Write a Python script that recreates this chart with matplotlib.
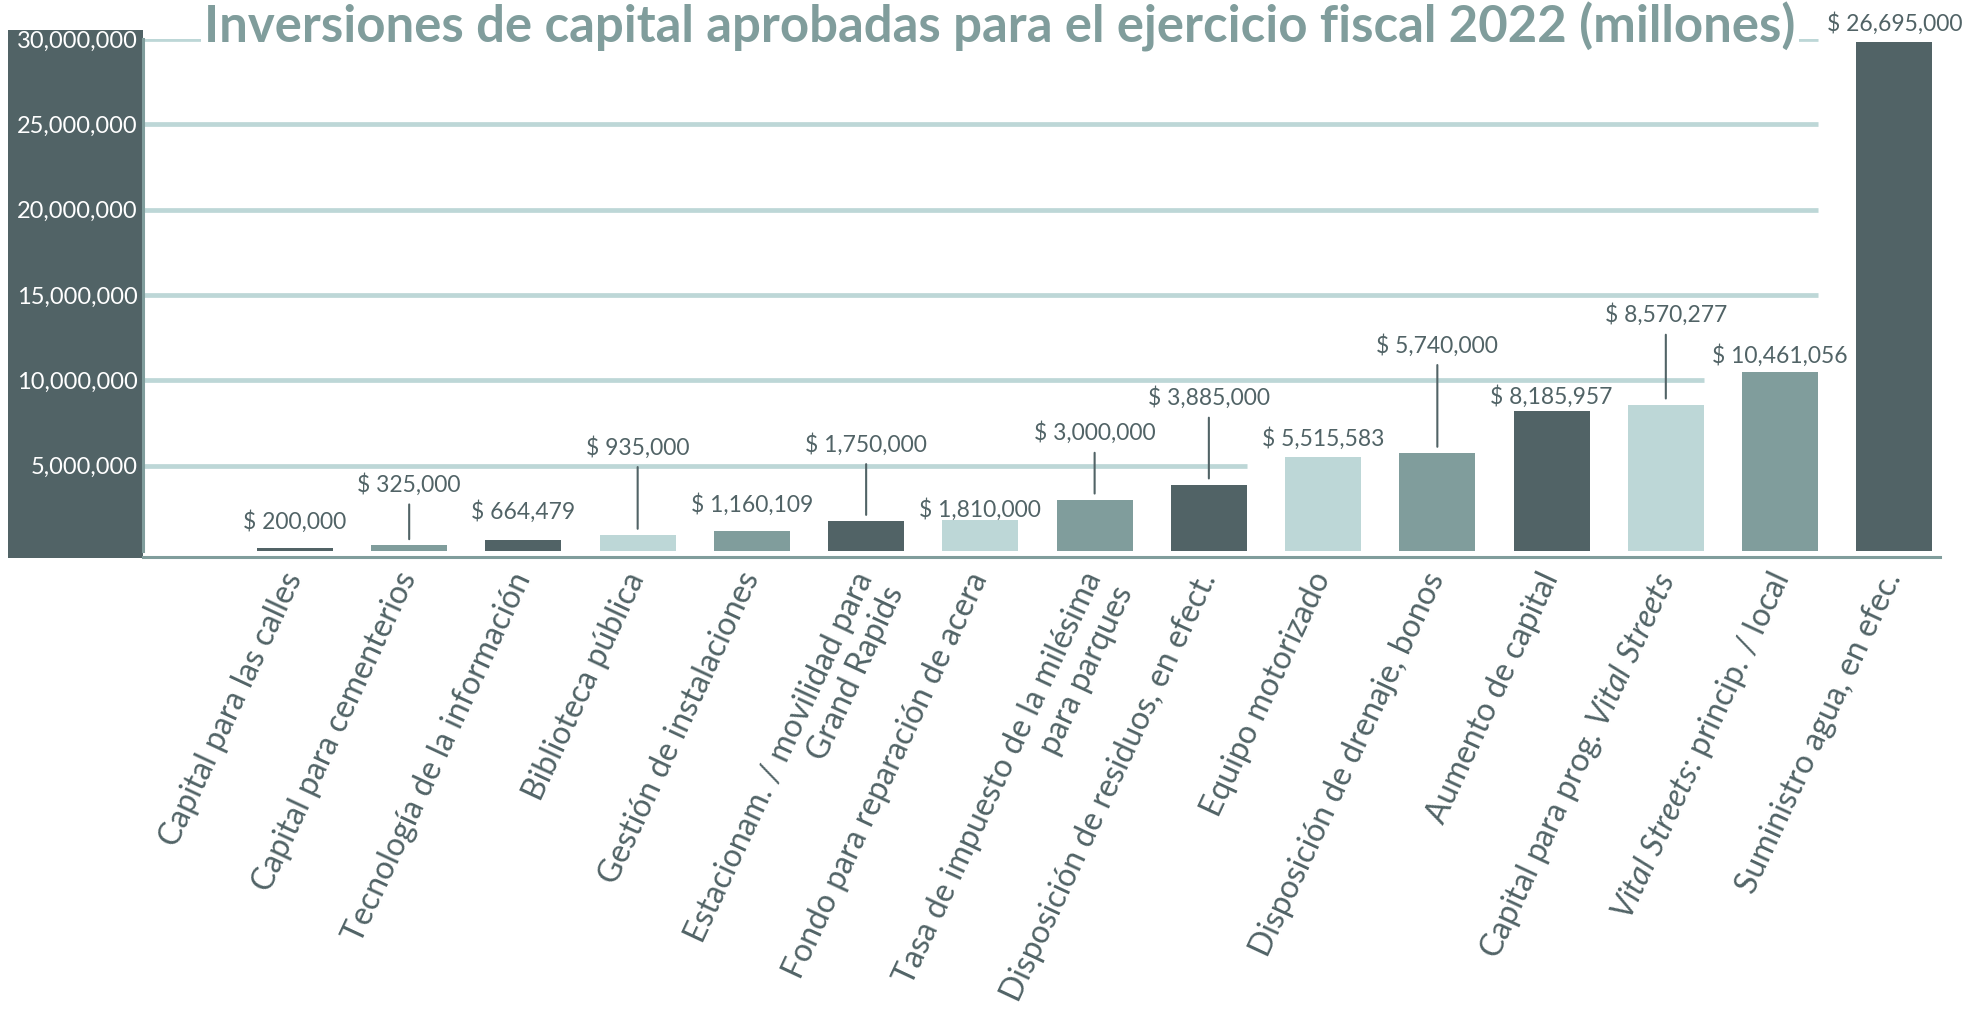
import matplotlib
matplotlib.use("Agg")
import matplotlib.pyplot as plt
import matplotlib.transforms as mtransforms
from matplotlib.patches import Rectangle

# ---------------- data ----------------
categories = [
    "Capital para las calles",
    "Capital para cementerios",
    "Tecnología de la información",
    "Biblioteca pública",
    "Gestión de instalaciones",
    "Estacionam. / movilidad para\nGrand Rapids",
    "Fondo para reparación de acera",
    "Tasa de impuesto de la milésima\npara parques",
    "Disposición de residuos, en efect.",
    "Equipo motorizado",
    "Disposición de drenaje, bonos",
    "Aumento de capital",
    r"Capital para prog. $\mathit{Vital\ Streets}$",
    r"$\mathit{Vital\ Streets}$: princip. / local",
    "Suministro agua, en efec.",
]
amounts = [200000, 325000, 664479, 935000, 1160109, 1750000, 1810000,
           3000000, 3885000, 5515583, 5740000, 8185957, 8570277,
           10461056, 26695000]
# bar heights as drawn in the picture (the last bar is drawn up to ~30M)
bar_heights = [200000, 325000, 664479, 935000, 1160109, 1750000, 1810000,
               3000000, 3885000, 5515583, 5740000, 8185957, 8570277,
               10461056, 29800000]
y_ticks = [5000000, 10000000, 15000000, 20000000, 25000000, 30000000]
y_tick_labels = ["5,000,000", "10,000,000", "15,000,000", "20,000,000",
                 "25,000,000", "30,000,000"]
title = "Inversiones de capital aprobadas para el ejercicio fiscal 2022 (millones)"

# ---------------- style / layout ----------------
DARK = "#516366"
MED = "#809d9c"
LIGHT = "#bdd7d7"
bar_colors = [DARK, MED, DARK, LIGHT, MED, DARK, LIGHT, MED, DARK,
              LIGHT, MED, DARK, LIGHT, MED, DARK]
# label centre height above bar top (pixels) and whether a leader line is used
label_rise = [26, 61, 28, 88, 27, 77, 11, 67, 87, 18, 108, 15, 90, 17, 19]
has_leader = [False, True, False, True, False, True, False, True, True,
              False, True, False, True, False, False]
# each gridline ends at the right edge of this bar index
grid_end_bar = [8, 12, 13, 13, 13, 13]

plt.rcParams["font.family"] = ["Lato", "DejaVu Sans"]
plt.rcParams["mathtext.fontset"] = "custom"
plt.rcParams["mathtext.rm"] = "Lato"
plt.rcParams["mathtext.it"] = "Lato:italic"

W, H = 1988, 1013
fig = plt.figure(figsize=(W / 100, H / 100), dpi=100)
ax_left, ax_right = 143, 1940
ax_top, ax_bot = 39, 551
ax = fig.add_axes([ax_left / W, (H - ax_bot) / H, (ax_right - ax_left) / W,
                   (ax_bot - ax_top) / H])

# dark panel behind the y tick labels
fig.add_artist(Rectangle((8 / W, (H - 558) / H), (ax_left - 8) / W, (558 - 30) / H,
                         transform=fig.transFigure, facecolor=DARK,
                         edgecolor="none", zorder=-1))

bw = 0.665
x = list(range(len(categories)))
xmin_lim, xmax_lim = -1.33, 14.4
ax.set_xlim(xmin_lim, xmax_lim)
ax.set_ylim(0, 30000000)

for yv, eb in zip(y_ticks, grid_end_bar):
    ax.hlines(yv, xmin_lim, eb + bw / 2, color=LIGHT, lw=3.4, zorder=0)

ax.bar(x, bar_heights, width=bw, color=bar_colors, zorder=2)

for i, (h, v) in enumerate(zip(bar_heights, amounts)):
    rise = label_rise[i]
    ax.annotate("\\$ {:,}".format(v), xy=(i, h), xycoords="data",
                xytext=(0, rise), textcoords="offset pixels",
                ha="center", va="center", fontsize=16.5, color=DARK, zorder=4)
    if has_leader[i]:
        ax.annotate("", xy=(i, h), xycoords="data",
                    xytext=(0, rise - 20), textcoords="offset pixels",
                    arrowprops=dict(arrowstyle="-", color=DARK, lw=1.5,
                                    shrinkA=0, shrinkB=4.5), zorder=4)

# axes / spines
for s in ["top", "right"]:
    ax.spines[s].set_visible(False)
ax.spines["left"].set_color(MED)
ax.spines["left"].set_linewidth(2.2)
ax.spines["bottom"].set_color(MED)
ax.spines["bottom"].set_linewidth(2.2)
ax.spines["bottom"].set_position(("outward", 4))

ax.set_yticks(y_ticks)
ax.set_yticklabels(y_tick_labels)
ax.tick_params(axis="y", length=0, pad=4, labelsize=17, labelcolor="white")

ax.set_xticks(x)
ax.set_xticklabels(categories)
ax.tick_params(axis="x", length=0, pad=8, labelsize=23, labelcolor=DARK)
shift = mtransforms.ScaledTranslation(-14 / 100, 0, fig.dpi_scale_trans)
for lab in ax.get_xticklabels():
    lab.set_rotation(65)
    lab.set_ha("right")
    lab.set_va("top")
    lab.set_rotation_mode("anchor")
    lab.set_linespacing(1.15)
    lab.set_transform(lab.get_transform() + shift)

t = fig.text(1000 / W, (H - 43) / H, title, ha="center", va="baseline",
             fontsize=33, fontweight="bold", color=MED, zorder=5,
             bbox=dict(facecolor="white", edgecolor="none", pad=2))
fig.canvas.draw()
tw = t.get_window_extent().width
t.set_fontsize(33 * 1595 / tw)

fig.savefig("out.png", dpi=100, facecolor="white")
